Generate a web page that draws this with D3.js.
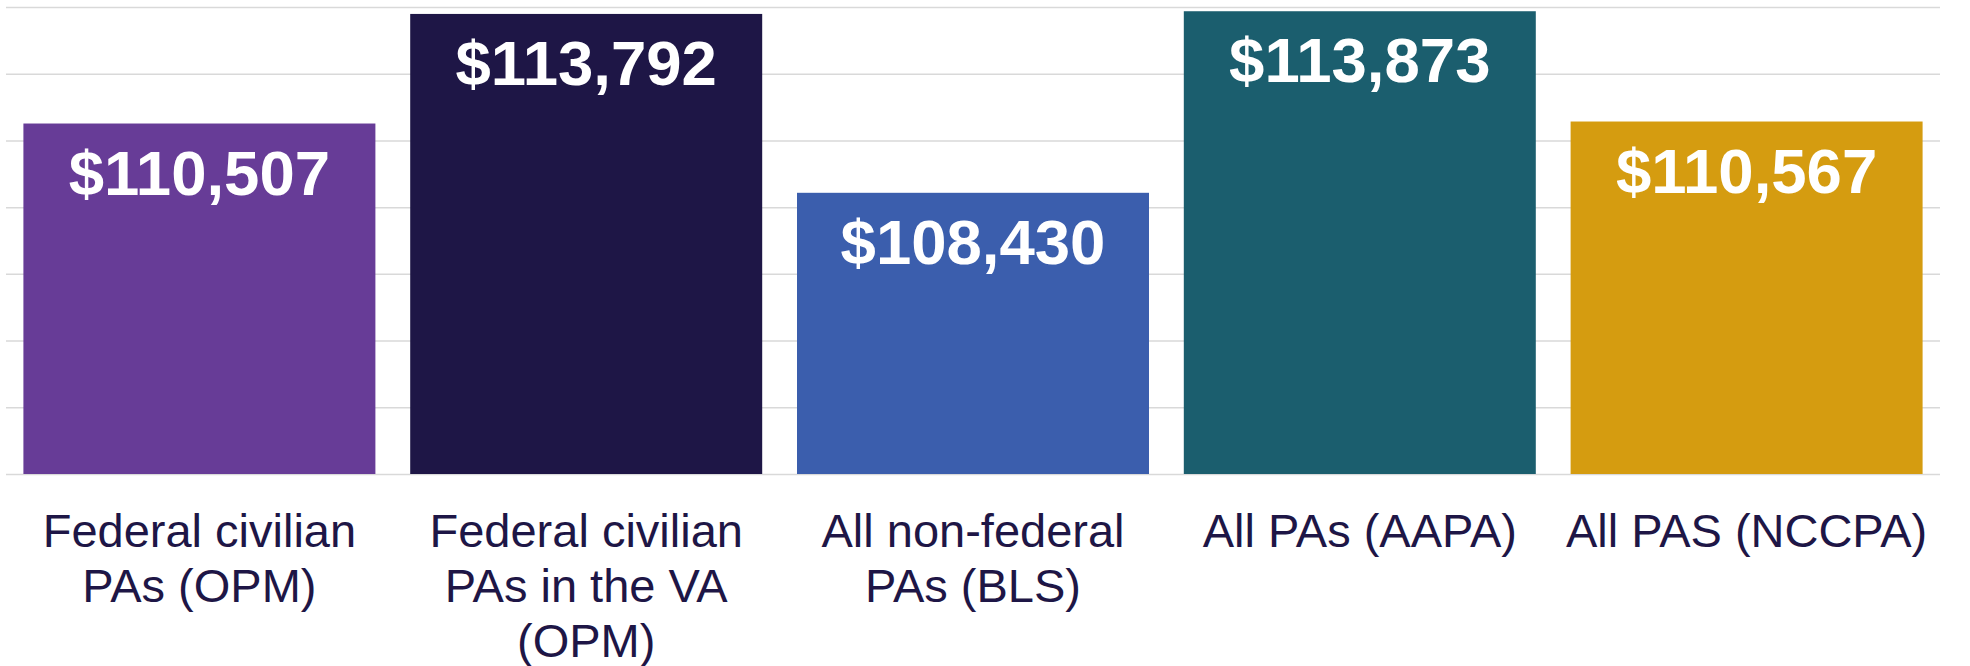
<!DOCTYPE html>
<html>
<head>
<meta charset="utf-8">
<script src="https://cdn.jsdelivr.net/npm/d3@7"></script>
<style>
  body { margin: 0; background: #fff; }
  svg { display: block; font-family: "Liberation Sans", Arial, sans-serif; }
</style>
</head>
<body>
<div id="chart"></div>
<script>
// chart data
var categories = ["Federal civilian\nPAs (OPM)", "Federal civilian\nPAs in the VA\n(OPM)", "All non-federal\nPAs (BLS)", "All PAs (AAPA)", "All PAS (NCCPA)"];
var salaries = [110507, 113792, 108430, 113873, 110567];
var barColors = ["#673c97", "#1e1646", "#3b5ead", "#1b5e6e", "#d59c10"];
var yTicks = [100000, 102000, 104000, 106000, 108000, 110000, 112000, 114000];

var W = 1970, H = 666;
var plotLeft = 6, plotRight = 1940, plotTop = 7, plotBase = 474;

var svg = d3.select("#chart")
  .append("svg")
    .attr("width", W)
    .attr("height", H);

var x = d3.scaleBand()
  .domain(categories)
  .range([plotLeft, plotRight])
  .paddingInner(0.09)
  .paddingOuter(0.045);

var y = d3.scaleLinear()
  .domain([100000, 114000])
  .range([plotBase, plotTop]);

// gridlines, no labels
var grid = svg.append("g")
  .attr("transform", "translate(" + plotLeft + ",0)")
  .call(d3.axisLeft(y).tickValues(yTicks).tickSize(-(plotRight - plotLeft)).tickFormat(""));
grid.select(".domain").remove();
grid.selectAll(".tick line")
  .attr("stroke", "#d9d9d9")
  .attr("stroke-width", 1.5);

// bars
svg.append("g")
  .selectAll("rect")
  .data(salaries)
  .enter()
  .append("rect")
    .attr("x", function(d, i) { return x(categories[i]); })
    .attr("y", function(d) { return y(d); })
    .attr("width", x.bandwidth())
    .attr("height", function(d) { return plotBase - y(d); })
    .attr("fill", function(d, i) { return barColors[i]; });

// value labels
var fmt = d3.format("$,");
svg.append("g")
  .selectAll("text")
  .data(salaries)
  .enter()
  .append("text")
    .attr("x", function(d, i) { return x(categories[i]) + x.bandwidth() / 2; })
    .attr("y", function(d) { return y(d) + 71; })
    .attr("text-anchor", "middle")
    .attr("fill", "#ffffff")
    .attr("font-weight", "bold")
    .attr("font-size", 63.5)
    .text(function(d) { return fmt(d); });

// category axis
var xAxis = svg.append("g")
  .attr("transform", "translate(0," + plotBase + ")")
  .call(d3.axisBottom(x).tickSize(0).tickPadding(0));
xAxis.select(".domain").remove();
xAxis.selectAll(".tick text").each(function(d) {
  var t = d3.select(this).text("")
    .attr("y", 73)
    .attr("dy", null)
    .attr("fill", "#1e1646")
    .attr("font-size", 47)
    .attr("font-family", "Liberation Sans, Arial, sans-serif");
  d.split("\n").forEach(function(line, i) {
    t.append("tspan")
      .attr("x", 0)
      .attr("y", 73 + i * 55)
      .text(line);
  });
});
</script>
</body>
</html>
